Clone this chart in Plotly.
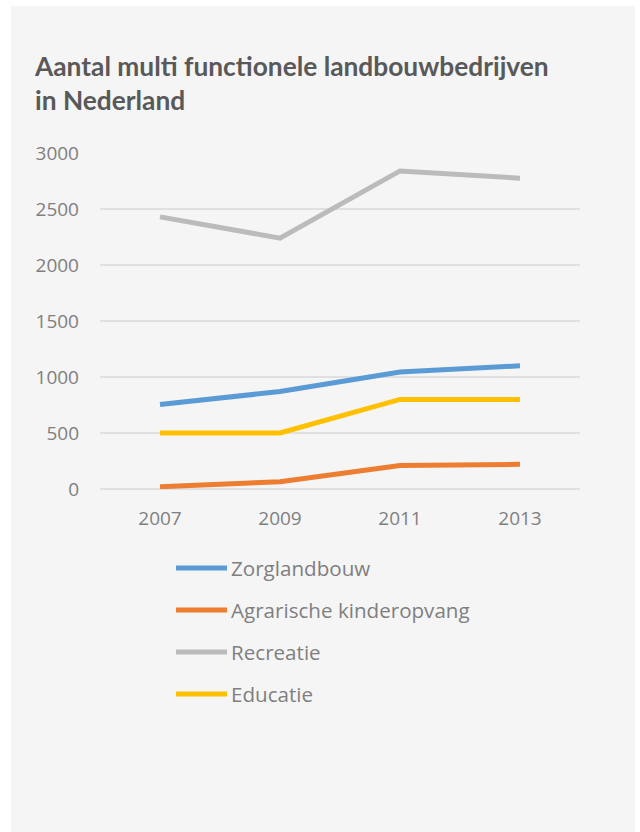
import plotly.graph_objects as go

# data
years = ["2007", "2009", "2011", "2013"]
series_names = ["Zorglandbouw", "Agrarische kinderopvang", "Recreatie", "Educatie"]
zorglandbouw = [755, 870, 1045, 1100]
kinderopvang = [20, 65, 210, 220]
recreatie = [2430, 2240, 2840, 2775]
educatie = [500, 500, 800, 800]
y_ticks = [0, 500, 1000, 1500, 2000, 2500, 3000]

colors = ["#5B9BD5", "#ED7D31", "#BBBBBB", "#FFC000"]
values = [zorglandbouw, kinderopvang, recreatie, educatie]

W, H = 640, 832
# plot area in pixels
L, R, T, B = 100, 580, 153, 489


def px_x(x):
    return (x - L) / (R - L)


def px_y(y):
    return (B - y) / (B - T)


TEXT_GRAY = "#7F7F7F"
FONT = "Open Sans"

fig = go.Figure()

for name, vals, col in zip(series_names, values, colors):
    fig.add_trace(go.Scatter(
        x=years,
        y=vals,
        mode="lines",
        name=name,
        line=dict(color=col, width=5),
        showlegend=False,
    ))

shapes = [
    # light gray panel behind everything
    dict(type="rect", xref="paper", yref="paper",
         x0=px_x(11), x1=px_x(635), y0=px_y(840), y1=px_y(6),
         fillcolor="#F5F5F5", line=dict(width=0), layer="below"),
]
annotations = [
    dict(text="<b>Aantal multi functionele landbouwbedrijven<br>in Nederland</b>",
         xref="paper", yref="paper", x=px_x(32), y=px_y(48),
         xanchor="left", yanchor="top", align="left", showarrow=False,
         font=dict(family="Lato", size=26.3, color="#595959")),
]

# legend drawn by hand so the line samples match the long swatches
leg_y0, leg_step = 568, 42
for i, (name, col) in enumerate(zip(series_names, colors)):
    yy = px_y(leg_y0 + i * leg_step)
    shapes.append(dict(type="line", xref="paper", yref="paper",
                       x0=px_x(176), x1=px_x(227), y0=yy, y1=yy,
                       line=dict(color=col, width=5)))
    annotations.append(dict(text=name, xref="paper", yref="paper",
                            x=px_x(229), y=yy, xanchor="left", yanchor="middle",
                            showarrow=False,
                            font=dict(family=FONT, size=20.6, color=TEXT_GRAY)))

fig.update_layout(
    width=W,
    height=H,
    margin=dict(l=L, r=W - R, t=T, b=H - B, pad=0),
    paper_bgcolor="white",
    plot_bgcolor="#F5F5F5",
    showlegend=False,
    shapes=shapes,
    annotations=annotations,
    xaxis=dict(
        type="category",
        range=[-0.5, 3.5],
        showgrid=False,
        zeroline=False,
        showline=False,
        ticks="",
        ticklabelstandoff=16,
        tickfont=dict(family=FONT, size=19, color=TEXT_GRAY),
    ),
    yaxis=dict(
        range=[0, 3000],
        tickvals=y_ticks,
        showgrid=True,
        gridcolor="#E0E0E0",
        gridwidth=1.5,
        zeroline=True,
        zerolinecolor="#E0E0E0",
        zerolinewidth=1.5,
        ticks="",
        ticklabelstandoff=20,
        tickfont=dict(family=FONT, size=19, color=TEXT_GRAY),
    ),
)

fig.write_html("out.html", config={"displayModeBar": False},
               post_script="document.body.style.margin='0px';")
